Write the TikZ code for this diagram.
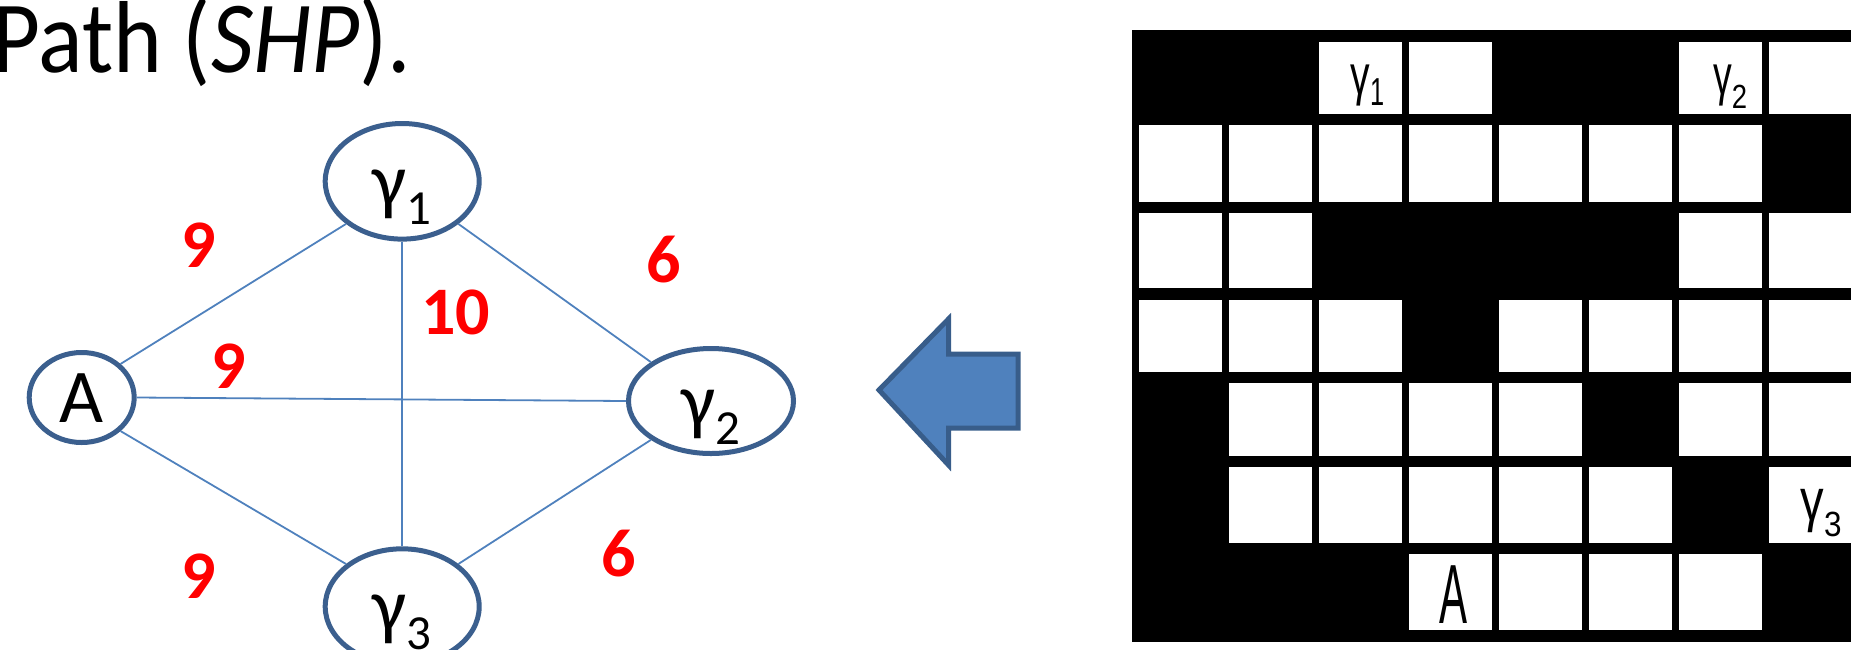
\documentclass[tikz,border=0pt]{standalone}
\usepackage{fontspec}
\setmainfont{Carlito}
\newfontfamily\gridfont{Liberation Sans}
\usetikzlibrary{shapes.geometric}
\definecolor{nodeblue}{HTML}{3B5F8E}
\definecolor{edgeblue}{HTML}{4F81BD}
\definecolor{arrowfill}{HTML}{4F81BD}
\definecolor{arrowline}{HTML}{385D8A}
\definecolor{wred}{HTML}{FF0000}
\newcommand\vlab[2]{\raisebox{-25pt}[0pt][0pt]{#1\raisebox{-18pt}{\fontsize{49}{49}\selectfont #2}}}
\begin{document}
\begin{tikzpicture}[x=1pt,y=-1pt,
  vnode/.style={ellipse, draw=nodeblue, line width=5pt, fill=white, inner sep=0pt,
    font=\fontsize{76}{76}\selectfont},
  edge/.style={draw=edgeblue, line width=1.8pt},
  weight/.style={text=wred, inner sep=0pt, font=\bfseries\fontsize{68}{68}\selectfont},
  gridtxt/.style={inner sep=0pt, anchor=base west, font=\gridfont\fontsize{56}{56}\selectfont},
  title/.style={inner sep=0pt, anchor=base west, font=\fontsize{93}{93}\selectfont}
]
\useasboundingbox (0,0) rectangle (1851,649);

% title
\node[title] (title) at (0,72) {\kern-8pt\scalebox{1}[1.1]{Path (\textit{SHP}).}};

% graph nodes
\node[vnode, minimum width=105pt, minimum height=90pt] (A) at (81.7,397.5) {\vlab{A}{}};
\node[vnode, minimum width=154pt, minimum height=115.6pt] (g1) at (402.2,181.3) {\vlab{γ}{1}};
\node[vnode, minimum width=165pt, minimum height=105pt] (g2) at (711,401) {\vlab{γ}{2}};
\node[vnode, minimum width=154pt, minimum height=115.6pt] (g3) at (402.2,606.6) {\vlab{γ}{3}};

% edges
\draw[edge] (A.north east) -- (g1.south west);
\draw[edge] (A.east) -- (g2.west);
\draw[edge] (A.south east) -- (g3.north west);
\draw[edge] (g1.south) -- (g3.north);
\draw[edge] (g1.south east) -- (g2.north west);
\draw[edge] (g2.south west) -- (g3.north east);

% weights
\node[weight] (w1) at (198.3,245) {9};
\node[weight] (w2) at (228.3,366) {9};
\node[weight] (w3) at (455.5,312.5) {10};
\node[weight] (w4) at (664,260) {6};
\node[weight] (w5) at (198.3,575.7) {9};
\node[weight] (w6) at (618.7,553.7) {6};

% block arrow
\draw[fill=arrowfill, draw=arrowline, line width=5pt, line join=miter]
  (879,390) -- (948.5,319) -- (948.5,354) -- (1018,354) -- (1018,428)
  -- (948.5,428) -- (948.5,465) -- cycle;

% grid
\fill[black] (1131.7,30) rectangle (1851,641.7);
\foreach \top/\bot/\cols in {41.7/114/{3,4,7,8}, 125/201.7/{1,2,3,4,5,6,7},
    213.3/288.3/{1,2,7,8}, 300/371.7/{1,2,3,5,6,7,8}, 383.3/456/{2,3,4,5,7,8},
    467.3/542.7/{2,3,4,5,6,8}, 554.3/630/{4,5,6,7}}{
  \foreach \c in \cols {
    \fill[white] ({1138.6+90.1*(\c-1)},\top) rectangle ({1138.6+90.1*(\c-1)+83},\bot);
  }
}
\node[gridtxt] (c1) at (1350.3,94.8) {\scalebox{0.7}[1]{γ}\scalebox{0.65}[1]{\raisebox{-11pt}{\fontsize{39}{39}\selectfont 1}}};
\node[gridtxt] (c2) at (1713,94.8) {\scalebox{0.67}[1]{γ}\scalebox{0.82}[1]{\raisebox{-14pt}{\fontsize{33.5}{33.5}\selectfont 2}}};
\node[gridtxt, font=\gridfont\fontsize{59}{59}\selectfont] (c3) at (1800.3,520.5) {\scalebox{0.8}[1]{γ}\scalebox{0.9}[1]{\raisebox{-16pt}{\fontsize{35}{35}\selectfont 3}}};
\node[gridtxt, font=\gridfont\fontsize{84}{84}\selectfont] (cA) at (1439.3,623.3) {\scalebox{0.5}[1]{A}};
\end{tikzpicture}
\end{document}
